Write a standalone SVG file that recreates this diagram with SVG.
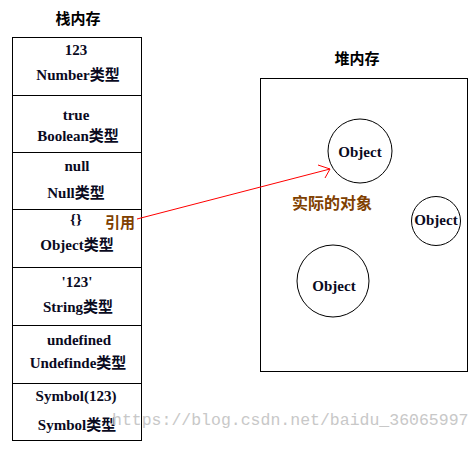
<svg xmlns="http://www.w3.org/2000/svg" width="476" height="451" viewBox="0 0 476 451">
<style>
.box{fill:none;stroke:#000;stroke-width:1}
.t{font-family:"Liberation Serif","Noto Sans CJK SC",serif;font-weight:bold;font-size:15px;fill:#0a0a1e;text-anchor:middle}
.title{font-family:"Noto Sans CJK SC",sans-serif;font-weight:bold;font-size:15px;fill:#000;text-anchor:middle}
.brown{font-family:"Noto Sans CJK SC",sans-serif;font-weight:bold;font-size:15px;fill:#804000;text-anchor:middle}
.wm{font-family:"Liberation Mono",monospace;font-size:16.5px;fill:#c8c8c8}
</style>
<rect width="476" height="451" fill="#fff"/>
<g id="stack">
<text class="title" x="78" y="24">栈内存</text>
<rect class="box" x="12.5" y="37.5" width="129" height="403"/>
<line class="box" x1="12" y1="95.5" x2="142" y2="95.5"/>
<line class="box" x1="12" y1="152.5" x2="142" y2="152.5"/>
<line class="box" x1="12" y1="209.5" x2="142" y2="209.5"/>
<line class="box" x1="12" y1="267.5" x2="142" y2="267.5"/>
<line class="box" x1="12" y1="325.5" x2="142" y2="325.5"/>
<line class="box" x1="12" y1="383.5" x2="142" y2="383.5"/>
</g>
<g id="number"><text class="t" x="76" y="55">123</text><text class="t" x="78" y="80">Number类型</text></g>
<g id="boolean"><text class="t" x="76" y="120">true</text><text class="t" x="78" y="141">Boolean类型</text></g>
<g id="null"><text class="t" x="77" y="171">null</text><text class="t" x="76" y="198">Null类型</text></g>
<g id="object"><text class="t" x="76" y="224">{}</text><text class="t" x="77" y="250">Object类型</text><text class="brown" x="120" y="228">引用</text></g>
<g id="string"><text class="t" x="77" y="287">'123'</text><text class="t" x="78" y="312">String类型</text></g>
<g id="undefined"><text class="t" x="79" y="345">undefined</text><text class="t" x="78" y="368">Undefinde类型</text></g>
<g id="symbol"><text class="t" x="76" y="401">Symbol(123)</text><text class="t" x="77" y="430">Symbol类型</text></g>
<g id="heap">
<text class="title" x="357" y="64">堆内存</text>
<rect class="box" x="260.5" y="78.5" width="207" height="293"/>
<text class="brown" x="332" y="209" style="font-size:16px">实际的对象</text>
</g>
<g id="obj1"><circle class="box" cx="360" cy="151" r="32"/><text class="t" x="360" y="157">Object</text></g>
<g id="obj2"><circle class="box" cx="436" cy="221" r="24.5"/><text class="t" x="436" y="225">Object</text></g>
<g id="obj3"><circle class="box" cx="333" cy="281" r="36"/><text class="t" x="334" y="291">Object</text></g>
<g id="connectors">
<line x1="137" y1="219" x2="330" y2="169" stroke="#f00" stroke-width="1"/>
<polyline points="318,165 330,169 325,178" fill="none" stroke="#f00" stroke-width="1"/>
</g>
<text class="wm" x="112" y="425">https://blog.csdn.net/baidu_36065997</text>
</svg>
